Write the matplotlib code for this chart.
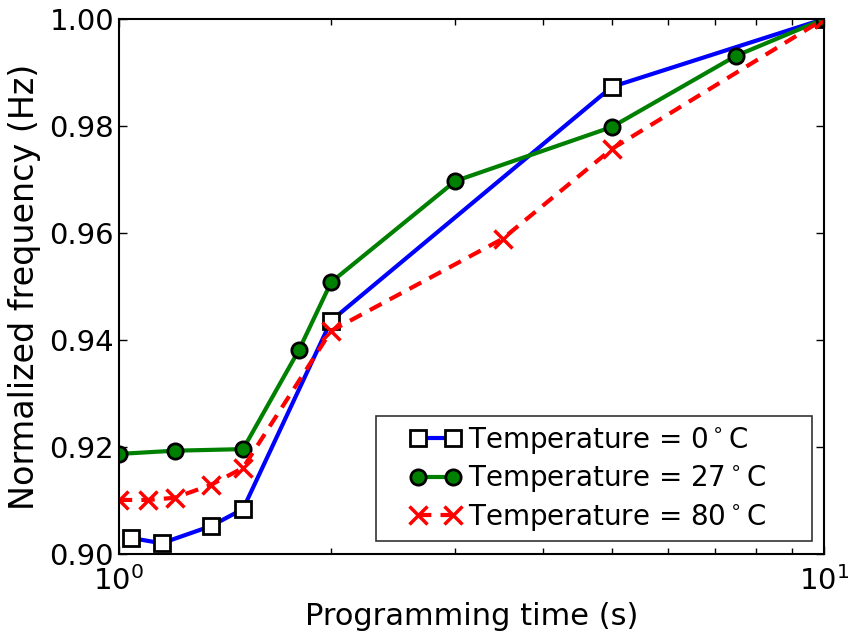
import numpy as np
import matplotlib
matplotlib.use("Agg")
import matplotlib.pyplot as plt
from matplotlib.legend_handler import HandlerLine2D
from matplotlib.ticker import NullFormatter

# Programming time (s) and normalized frequency for each temperature
t_0c = [1.04, 1.15, 1.35, 1.5, 2.0, 5.0, 10.0]
f_0c = [0.903, 0.902, 0.9052, 0.9084, 0.9436, 0.9873, 1.0]

t_27c = [1.0, 1.2, 1.5, 1.8, 2.0, 3.0, 5.0, 7.5, 10.0]
f_27c = [0.9187, 0.9193, 0.9196, 0.9381, 0.9508, 0.9697, 0.9798, 0.9931, 1.0]

t_80c = [1.0, 1.1, 1.2, 1.35, 1.5, 2.0, 3.5, 5.0, 10.0]
f_80c = [0.9101, 0.9101, 0.9105, 0.9129, 0.9161, 0.9417, 0.9589, 0.9757, 1.0]

labels = [u'Temperature = 0$^\\circ$C', u'Temperature = 27$^\\circ$C',
          u'Temperature = 80$^\\circ$C']
yticks = [0.90, 0.92, 0.94, 0.96, 0.98, 1.00]

plt.rcParams['font.family'] = ['DejaVu Sans']
plt.rcParams['xtick.direction'] = 'in'
plt.rcParams['ytick.direction'] = 'in'
plt.rcParams['xtick.top'] = True
plt.rcParams['ytick.right'] = True


# old-style legend handle: markers sit towards the right of a long handle
class OldHandler(HandlerLine2D):
    def get_xdata(self, legend, xdescent, ydescent, width, height, fontsize):
        x0 = -xdescent + width - 1.45 * fontsize
        x1 = -xdescent + width - 0.2 * fontsize
        return np.array([x0, x1]), np.array([x0, x1])


fig = plt.figure(figsize=(8.49, 6.38), dpi=100)
ax = fig.add_axes([0.140, 0.1317, 0.8306, 0.8386])

l1, = ax.plot(t_0c, f_0c, '-s', color='blue', lw=3, ms=11, mfc='white', mec='black', mew=2,
              label=labels[0])
l2, = ax.plot(t_27c, f_27c, '-o', color='green', lw=3, ms=11, mfc='green', mec='black', mew=2,
              label=labels[1])
l3, = ax.plot(t_80c, f_80c, '--x', color='red', lw=3, ms=13, mew=2.5, dashes=(3.2, 2.2),
              label=labels[2])

ax.set_xscale('log')
ax.set_xlim(1, 10)
ax.set_ylim(0.90, 1.00)
ax.set_yticks(yticks)
ax.set_yticklabels(['%.2f' % v for v in yticks])
ax.xaxis.set_minor_formatter(NullFormatter())
ax.tick_params(which='major', labelsize=21, length=6, width=1)
ax.tick_params(axis='x', which='major', pad=9)
ax.tick_params(which='minor', length=4, width=1)
for s in ax.spines.values():
    s.set_linewidth(1.5)

ax.set_xlabel('Programming time (s)', fontsize=22, labelpad=4)
ax.set_ylabel('Normalized frequency (Hz)', fontsize=24, labelpad=6)

leg = ax.legend([l1, l2, l3], [s + '     ' for s in labels], loc='lower right', fontsize=20,
                numpoints=2, fancybox=False, handlelength=2.66, handletextpad=0.35,
                borderpad=0.3, labelspacing=0.28, borderaxespad=0.45,
                handler_map={l1: OldHandler(), l2: OldHandler(), l3: OldHandler()})
leg.get_frame().set_edgecolor('black')
leg.get_frame().set_linewidth(1.2)

fig.savefig('out.png', dpi=100)
